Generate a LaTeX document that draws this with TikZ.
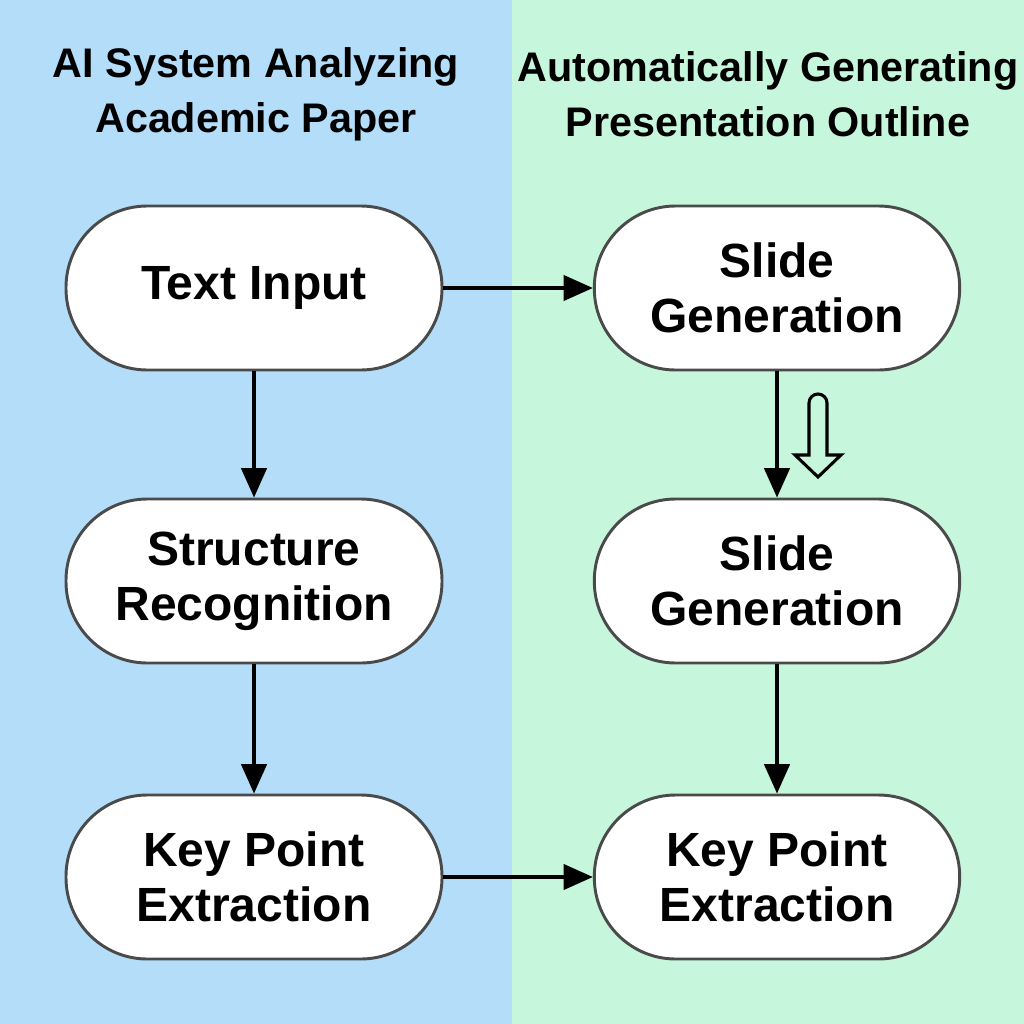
\documentclass[tikz,border=0pt]{standalone}
\usepackage{fontspec}
\setmainfont{Liberation Sans}
\usetikzlibrary{arrows.meta}
\definecolor{bgblue}{HTML}{B3DDF8}
\definecolor{bggreen}{HTML}{C6F6DC}
\definecolor{pillline}{HTML}{4A4A4A}
\tikzset{
  pill/.style={draw=pillline, line width=2.2pt, fill=white, rounded corners=61pt,
    minimum height=123pt, align=center, font=\fontsize{36}{41}\selectfont\bfseries, inner sep=0pt},
  leftpill/.style={pill, minimum width=282pt},
  rightpill/.style={pill, minimum width=274pt},
  conn/.style={draw=black, line width=2.4pt, -{Triangle[length=22pt,width=19pt]}},
  ttl/.style={align=center, font=\fontsize{31}{41}\selectfont\bfseries, inner sep=0pt}
}
\begin{document}
\begin{tikzpicture}[x=0.75pt,y=-0.75pt]
\useasboundingbox (0,0) rectangle (1024,1024);
\fill[bgblue] (0,0) rectangle (512,1024);
\fill[bggreen] (512,0) rectangle (1024,1024);
\node[ttl] (t1) at (256,94) {AI System Analyzing\\Academic Paper};
\node[ttl] (t2) at (768,94) {Automatically Generating\\Presentation Outline};
\node[leftpill] (a) at (254,288) {Text Input};
\node[leftpill] (b) at (254,581) {Structure\\Recognition};
\node[leftpill] (c) at (254,877) {Key Point\\Extraction};
\node[rightpill] (d) at (777,288) {Slide\\Generation};
\node[rightpill] (e) at (777,581) {Slide\\Generation};
\node[rightpill] (f) at (777,877) {Key Point\\Extraction};
\draw[conn] (a) -- (b);
\draw[conn] (b) -- (c);
\draw[conn] (a) -- (d);
\draw[conn] (d) -- (e);
\draw[conn] (e) -- (f);
\draw[conn] (c) -- (f);
% hollow arrow
\coordinate (hl) at (809,455);
\draw[line width=2.3pt, fill=bggreen, line join=miter]
  (hl) -- (809,403) arc[start angle=180, end angle=360, radius=9] -- (827,455)
  -- (841,455) -- (818,477) -- (795,455) -- cycle;
\end{tikzpicture}
\end{document}
